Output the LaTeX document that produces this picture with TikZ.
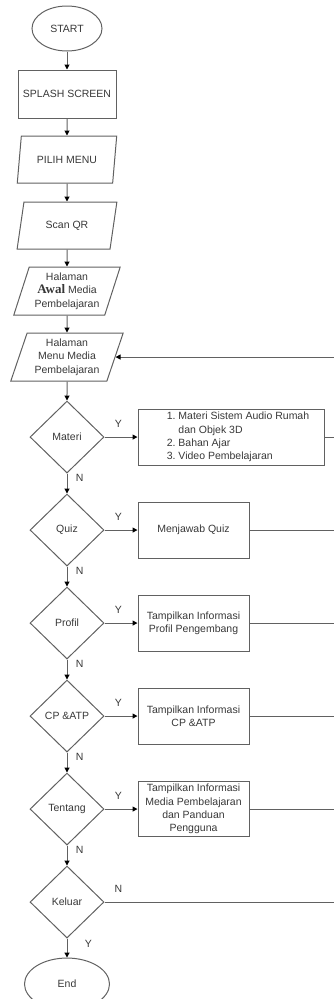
\documentclass[tikz,border=0pt]{standalone}
\usepackage{fontspec}
\setmainfont{Liberation Sans}
\newfontfamily\awalfont{Liberation Serif}
\usepackage{tikz}
\usetikzlibrary{positioning}
\usetikzlibrary{calc}
\usetikzlibrary{arrows.meta}
\usetikzlibrary{shapes.geometric}
\colorlet{linegray}{black!62}
\colorlet{textgray}{black!78}

\begin{document}
\begin{tikzpicture}[x=1pt, y=1pt,
	every node/.style={font=\fontsize{10.5}{13.3}\selectfont, text=textgray},
	terminal/.style={ellipse, draw=linegray, line width=1pt, minimum width=70pt, minimum height=45pt, inner sep=0pt},
	process/.style={rectangle, draw=linegray, line width=1pt, minimum width=111pt, minimum height=56pt, align=center, inner sep=1pt},
	io/.style={trapezium, trapezium left angle=70, trapezium right angle=110, trapezium stretches=true, draw=linegray, line width=1pt, minimum width=100pt, minimum height=47pt, align=center, inner sep=0pt},
	decision/.style={diamond, draw=linegray, line width=1pt, minimum width=74pt, minimum height=72pt, inner sep=0pt},
	flow/.style={draw=linegray, line width=1pt, -{Triangle[length=5pt, width=5pt, color=black]}},
	back/.style={draw=linegray, line width=1pt}]
				\useasboundingbox (0,0) rectangle (333,-999);

				% nodes
				\node[terminal] (start) at (67,-28.5) {START};
				\node[process, minimum width=98pt, minimum height=48pt, below = 18pt of start] (splash) {SPLASH SCREEN};
				\node[io, below = 17pt of splash] (pilih) {PILIH MENU};
				\node[io, below = 18pt of pilih] (scan) {Scan QR};
				\node[io, minimum width=107pt, minimum height=48pt, below = 17pt of scan] (awal) {Halaman\\{\awalfont\bfseries\fontsize{13}{13}\selectfont Awal} Media\\Pembelajaran};
				\node[io, minimum width=113pt, minimum height=48pt, below = 17pt of awal] (menu) {Halaman\\Menu Media\\Pembelajaran};

				\node[decision, below = 19pt of menu] (materi) {Materi};
				\node[decision, below = 20pt of materi] (quiz) {Quiz};
				\node[decision, below = 20pt of quiz] (profil) {Profil};
				\node[decision, below = 20pt of profil] (cpatp) {CP \&ATP};
				\node[decision, below = 20pt of cpatp] (tentang) {Tentang};
				\node[decision, below = 20pt of tentang] (keluar) {Keluar};
				\node[terminal, minimum width=85pt, minimum height=52pt, below = 19pt of keluar] (end) {End};

				\node[process, minimum width=186pt, inner xsep=0pt, right = 33pt of materi] (materibox) {\begin{tabular}{@{\hspace{27pt}}r@{~}l@{\hspace{13pt}}}
						1. & Materi Sistem Audio Rumah\\
						 & dan Objek 3D\\
						2. & Bahan Ajar\\
						3. & Video Pembelajaran
					\end{tabular}};
				\node[process, right = 33pt of quiz] (quizbox) {Menjawab Quiz};
				\node[process, right = 33pt of profil] (profilbox) {Tampilkan Informasi\\Profil Pengembang};
				\node[process, right = 33pt of cpatp] (cpatpbox) {Tampilkan Informasi\\CP \&ATP};
				\node[process, minimum height=55pt, right = 33pt of tentang] (tentangbox) {Tampilkan Informasi\\Media Pembelajaran\\dan Panduan\\Pengguna};

				\coordinate (rail) at (336,0);

				% edges
				\draw[flow] (start) -- (splash);
				\draw[flow] (splash) -- (pilih);
				\draw[flow] (pilih) -- (scan);
				\draw[flow] (scan) -- (awal);
				\draw[flow] (awal) -- (menu);
				\draw[flow] (menu) -- (materi);

				\draw[flow] (materi) -- (quiz)
					node[pos=0.2, right=5pt]{N};
				\draw[flow] (quiz) -- (profil)
					node[pos=0.2, right=5pt]{N};
				\draw[flow] (profil) -- (cpatp)
					node[pos=0.2, right=5pt]{N};
				\draw[flow] (cpatp) -- (tentang)
					node[pos=0.2, right=5pt]{N};
				\draw[flow] (tentang) -- (keluar)
					node[pos=0.2, right=5pt]{N};
				\draw[flow] (keluar) -- (end)
					node[pos=0.3, right=14pt]{Y};

				\draw[flow] (materi) -- (materibox)
					node[pos=0.42, above=6pt]{Y};
				\draw[flow] (quiz) -- (quizbox)
					node[pos=0.42, above=6pt]{Y};
				\draw[flow] (profil) -- (profilbox)
					node[pos=0.42, above=6pt]{Y};
				\draw[flow] (cpatp) -- (cpatpbox)
					node[pos=0.42, above=6pt]{Y};
				\draw[flow] (tentang) -- (tentangbox)
					node[pos=0.42, above=6pt]{Y};

				% back to menu
				\draw[back] (materibox.east) -- (materibox.east -| rail);
				\draw[back] (quizbox.east) -- (quizbox.east -| rail);
				\draw[back] (profilbox.east) -- (profilbox.east -| rail);
				\draw[back] (cpatpbox.east) -- (cpatpbox.east -| rail);
				\draw[back] (tentangbox.east) -- (tentangbox.east -| rail);
				\draw[flow] (keluar.east) -- node[pos=0.06, above=6pt]{N} (keluar.east -| rail)
					-- (menu.east -| rail) -- (menu.east);
\end{tikzpicture}
\end{document}
